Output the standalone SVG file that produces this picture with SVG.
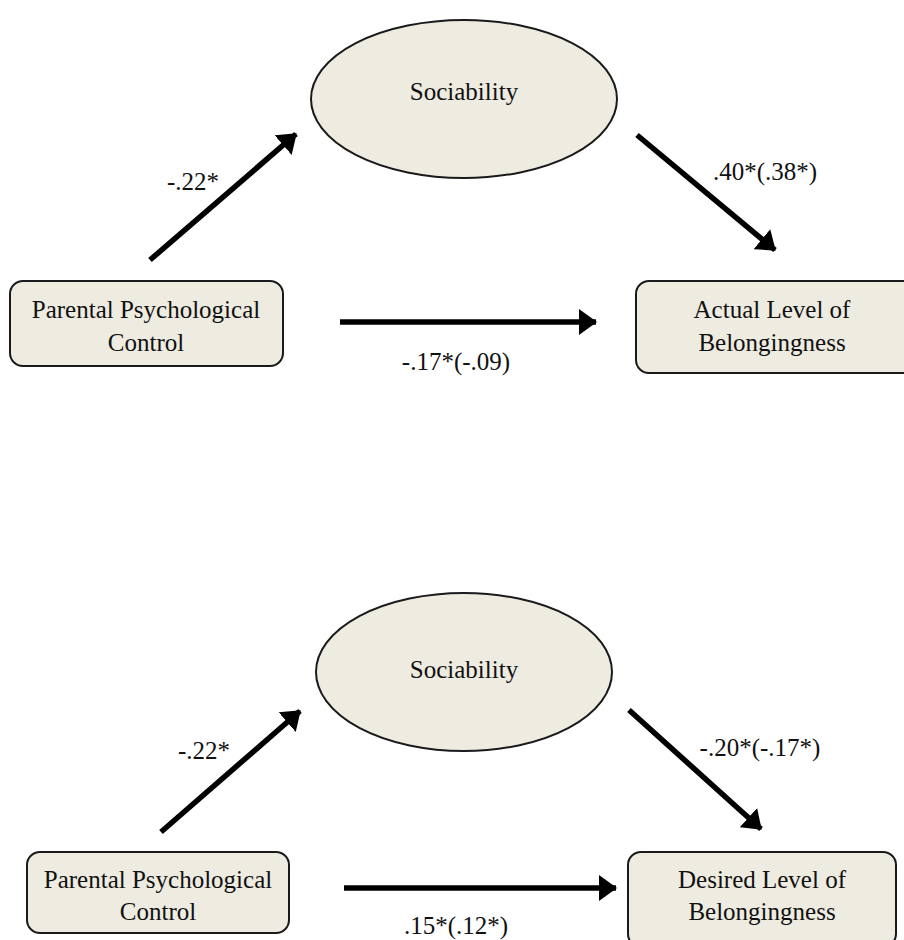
<svg xmlns="http://www.w3.org/2000/svg" width="904" height="940" viewBox="0 0 904 940">
<defs>
<style>
.node{fill:#eeebe1;stroke:#1a1a1a;stroke-width:2}
.t{font-family:"Liberation Serif","Times New Roman",serif;font-size:25px;fill:#111;text-anchor:middle}
.c{stroke:#000;stroke-width:5.5;fill:none;marker-end:url(#ah)}
</style>
<marker id="ah" markerUnits="userSpaceOnUse" markerWidth="18" markerHeight="26" viewBox="0 0 18 26" refX="17" refY="13" orient="auto">
<path d="M0,0 L18,13 L0,26 Z" fill="#000"/>
</marker>
</defs>
<rect width="904" height="940" fill="#fff"/>
<g id="top-sociability">
<ellipse class="node" cx="464" cy="99" rx="153" ry="79"/>
<text class="t" x="464" y="100">Sociability</text>
</g>
<g id="top-control">
<rect class="node" x="10" y="281" width="273" height="85" rx="13"/>
<text class="t" x="146" y="318">Parental Psychological</text>
<text class="t" x="146" y="351">Control</text>
</g>
<g id="top-actual">
<rect class="node" x="636" y="281" width="290" height="92" rx="13"/>
<text class="t" x="772" y="318">Actual Level of</text>
<text class="t" x="772" y="351">Belongingness</text>
</g>
<g id="bottom-sociability">
<ellipse class="node" cx="464" cy="672" rx="148" ry="79"/>
<text class="t" x="464" y="678">Sociability</text>
</g>
<g id="bottom-control">
<rect class="node" x="27" y="852" width="262" height="81" rx="13"/>
<text class="t" x="158" y="888">Parental Psychological</text>
<text class="t" x="158" y="920">Control</text>
</g>
<g id="bottom-desired">
<rect class="node" x="628" y="852" width="268" height="95" rx="13"/>
<text class="t" x="762" y="888">Desired Level of</text>
<text class="t" x="762" y="920">Belongingness</text>
</g>
<g id="connectors">
<line class="c" x1="150" y1="260" x2="296" y2="134"/>
<line class="c" x1="637" y1="135" x2="775" y2="250"/>
<line class="c" x1="340" y1="322" x2="596" y2="322"/>
<line class="c" x1="161" y1="832" x2="300" y2="711"/>
<line class="c" x1="629" y1="710" x2="761" y2="829"/>
<line class="c" x1="344" y1="888" x2="616" y2="888"/>
</g>
<g id="labels">
<text class="t" x="193" y="190">-.22*</text>
<text class="t" x="765" y="180">.40*(.38*)</text>
<text class="t" x="456" y="370">-.17*(-.09)</text>
<text class="t" x="204" y="759">-.22*</text>
<text class="t" x="760" y="756">-.20*(-.17*)</text>
<text class="t" x="456" y="934">.15*(.12*)</text>
</g>
</svg>
